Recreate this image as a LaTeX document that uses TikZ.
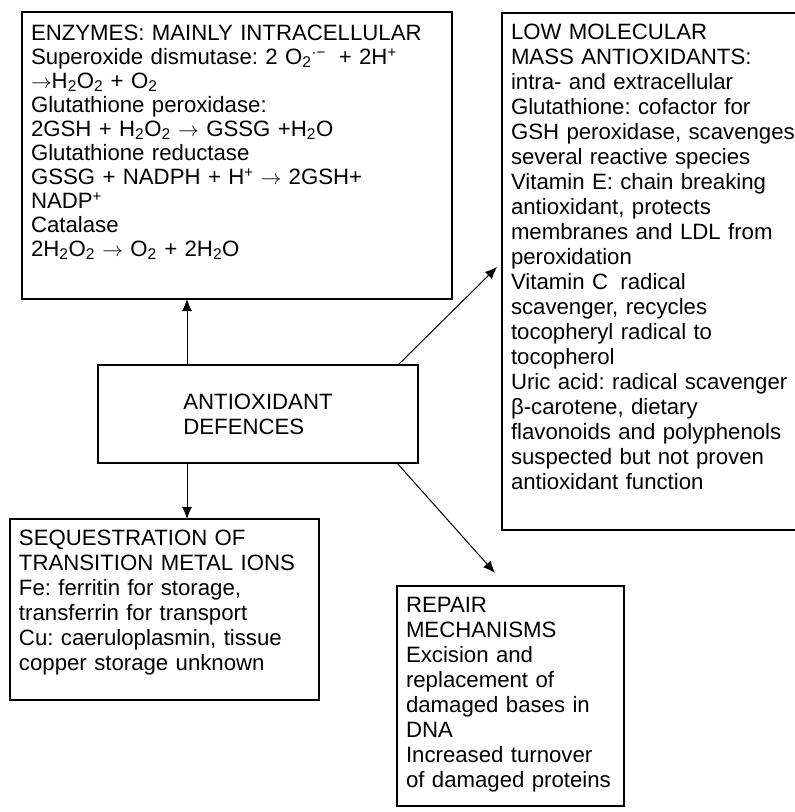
\documentclass[tikz,border=0pt]{standalone}
\usepackage{fontspec}
\setmainfont{Liberation Sans}
\usepackage{tikz}
\usetikzlibrary{arrows.meta}

\newcommand{\sps}[1]{\raisebox{7pt}{\fontsize{15}{15}\selectfont #1}}

\begin{document}
\begin{tikzpicture}[x = 1pt, y = -1pt,
  plain/.style = {draw, shape = rectangle, line width = 1.2pt, outer sep = 0pt, inner xsep = 9pt, inner ysep = 0pt, align = left, font = \fontsize{22.2}{25}\selectfont\frenchspacing},
  box/.style = {plain, anchor = north west, text height = 26pt},
  link/.style = {line width = 1pt, -{Latex[length = 12pt, width = 10pt]}}]
\useasboundingbox (0,0) rectangle (795,812);
\node[plain, line width = 2pt, minimum width = 320pt, minimum height = 98pt] (0) at (258,414) {ANTIOXIDANT\\DEFENCES};
\node[box, text height = 28pt, text width = 412pt, text depth = 259pt, font = \fontsize{22.2}{24}\selectfont\frenchspacing] (1) at (22,12) {ENZYMES: MAINLY INTRACELLULAR\\
Superoxide dismutase: 2 O\textsubscript{2}\sps{·−}\hspace{6pt} + 2H\sps{+}\\
$\rightarrow$H\textsubscript{2}O\textsubscript{2} + O\textsubscript{2}\\
Glutathione peroxidase:\\
2GSH + H\textsubscript{2}O\textsubscript{2} $\rightarrow$ GSSG +H\textsubscript{2}O\\
Glutathione reductase\\
GSSG + NADPH + H\sps{+} $\rightarrow$ 2GSH+\\
NADP\sps{+}\\
Catalase\\
2H\textsubscript{2}O\textsubscript{2} $\rightarrow$ O\textsubscript{2} + 2H\textsubscript{2}O};
\node[box, text width = 292pt, text depth = 491pt] (2) at (502,13) {LOW MOLECULAR\\
MASS ANTIOXIDANTS:\\
intra- and extracellular\\
Glutathione: cofactor for\\
GSH peroxidase, scavenges\\
several reactive species\\
Vitamin E: chain breaking\\
antioxidant, protects\\
membranes and LDL from\\
peroxidation\\
Vitamin C\hspace{5pt} radical\\
scavenger, recycles\\
tocopheryl radical to\\
tocopherol\\
Uric acid: radical scavenger\\
β-carotene, dietary\\
flavonoids and polyphenols\\
suspected but not proven\\
antioxidant function};
\node[box, text width = 291pt, text depth = 155pt] (3) at (10,519) {SEQUESTRATION OF\\
TRANSITION METAL IONS\\
Fe: ferritin for storage,\\
transferrin for transport\\
Cu: caeruloplasmin, tissue\\
copper storage unknown};
\node[box, text width = 209pt, text depth = 194pt] (4) at (397,586) {REPAIR\\
MECHANISMS\\
Excision and\\
replacement of\\
damaged bases in\\
DNA\\
Increased turnover\\
of damaged proteins};
\coordinate (a2) at (497,267);
\coordinate (a4) at (495,573);
\draw[link] ([xshift = 89pt]0.north west) -- ([xshift = 89pt]0.north west |- 1.south);
\draw[link] ([xshift = 89pt]0.south west) -- ([xshift = 89pt]0.south west |- 3.north);
\draw[link] ([xshift = -20pt]0.north east) -- (a2);
\draw[link] ([xshift = -21pt]0.south east) -- (a4);
\end{tikzpicture}
\end{document}
